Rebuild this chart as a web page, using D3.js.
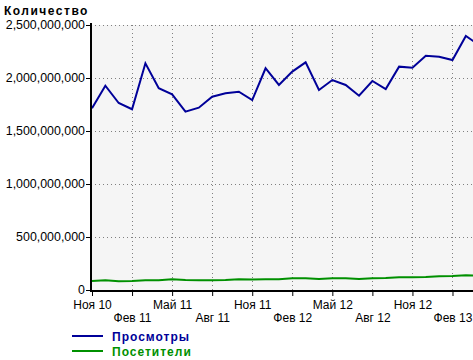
<!DOCTYPE html>
<html>
<head>
<meta charset="utf-8">
<script src="https://cdn.jsdelivr.net/npm/d3@7"></script>
<style>
  body { margin: 0; background: #fff; }
  text { font-family: "Liberation Sans", Arial, sans-serif; }
</style>
</head>
<body>
<script>
// monthly data, Nov 2010 .. Apr 2013
const months = [
  "Ноя 10", "Дек 10", "Янв 11", "Фев 11", "Мар 11", "Апр 11", "Май 11", "Июн 11",
  "Июл 11", "Авг 11", "Сен 11", "Окт 11", "Ноя 11", "Дек 11", "Янв 12", "Фев 12",
  "Мар 12", "Апр 12", "Май 12", "Июн 12", "Июл 12", "Авг 12", "Сен 12", "Окт 12",
  "Ноя 12", "Дек 12", "Янв 13", "Фев 13", "Мар 13", "Апр 13"
];
const views = [
  1714e6, 1927e6, 1764e6, 1705e6, 2139e6, 1903e6, 1846e6, 1682e6,
  1720e6, 1824e6, 1856e6, 1871e6, 1792e6, 2092e6, 1934e6, 2060e6,
  2148e6, 1887e6, 1981e6, 1934e6, 1833e6, 1972e6, 1896e6, 2107e6,
  2097e6, 2210e6, 2201e6, 2170e6, 2396e6, 2310e6
];
const visitors = [
  85e6, 93e6, 83e6, 84e6, 92e6, 93e6, 102e6, 94e6,
  93e6, 93e6, 94e6, 101e6, 100e6, 101e6, 102e6, 110e6,
  111e6, 103e6, 110e6, 111e6, 104e6, 112e6, 113e6, 120e6,
  121e6, 122e6, 130e6, 131e6, 140e6, 133e6
];
const yTicks = [0, 500e6, 1000e6, 1500e6, 2000e6, 2500e6];
const xTicks = [0, 3, 6, 9, 12, 15, 18, 21, 24, 27];

const series = [
  { name: "Просмотры", values: views, color: "#000099" },
  { name: "Посетители", values: visitors, color: "#009000" }
];

const width = 473;
const height = 360;
const plotLeft = 91;
const plotTop = 25;
const plotBottom = 290;
const plotRight = 480;

const svg = d3.select("body").append("svg")
  .attr("width", width)
  .attr("height", height);

const x = d3.scaleLinear().domain([0, 29]).range([92, 479.2]);
const y = d3.scaleLinear().domain([0, 2500e6]).range([plotBottom, plotTop]);

// plot background
svg.append("rect")
  .attr("x", plotLeft)
  .attr("y", plotTop)
  .attr("width", plotRight - plotLeft)
  .attr("height", plotBottom - plotTop)
  .attr("fill", "#f5f5f5");

// grid
const grid = svg.append("g").attr("id", "grid")
  .attr("stroke", "#808080")
  .attr("stroke-width", 1)
  .attr("stroke-dasharray", "1,3")
  .attr("shape-rendering", "crispEdges");

grid.selectAll(".hgrid")
  .data(yTicks.filter((d) => d > 0))
  .enter()
  .append("line")
  .attr("class", "hgrid")
  .attr("x1", plotLeft)
  .attr("x2", plotRight)
  .attr("y1", (d) => Math.round(y(d)) + 0.5)
  .attr("y2", (d) => Math.round(y(d)) + 0.5);

grid.selectAll(".vgrid")
  .data(xTicks.filter((d) => d > 0))
  .enter()
  .append("line")
  .attr("class", "vgrid")
  .attr("x1", (d) => Math.round(x(d)) + 0.5)
  .attr("x2", (d) => Math.round(x(d)) + 0.5)
  .attr("y1", plotTop)
  .attr("y2", plotBottom);

// lines
const line = (vals) => d3.line()
  .x((d, i) => x(i))
  .y((d) => y(d))(vals);

svg.append("g").attr("id", "lines")
  .selectAll("path")
  .data(series)
  .enter()
  .append("path")
  .attr("d", (d) => line(d.values))
  .attr("fill", "none")
  .attr("stroke", (d) => d.color)
  .attr("stroke-width", 2);

// axes
const yAxis = d3.axisLeft(y)
  .tickValues(yTicks)
  .tickFormat(d3.format(","))
  .tickSize(5)
  .tickSizeOuter(0);

const yAxisEl = svg.append("g")
  .attr("id", "y-axis")
  .attr("transform", `translate(${plotLeft}, 0)`)
  .call(yAxis);

yAxisEl.select(".domain").remove();
yAxisEl.selectAll(".tick line").attr("stroke", "#000");
yAxisEl.selectAll(".tick text")
  .attr("x", -6)
  .style("font-size", "12.4px")
  .attr("fill", "#000");

svg.append("line")
  .attr("x1", plotLeft)
  .attr("x2", plotLeft)
  .attr("y1", plotTop - 2)
  .attr("y2", plotBottom + 2)
  .attr("stroke", "#000")
  .attr("stroke-width", 2);

const xAxis = d3.axisBottom(x)
  .tickValues(xTicks)
  .tickFormat((d) => months[d])
  .tickSize(5)
  .tickSizeOuter(0);

const xAxisEl = svg.append("g")
  .attr("id", "x-axis")
  .attr("transform", `translate(0, ${plotBottom + 1})`)
  .call(xAxis);

xAxisEl.select(".domain").remove();
xAxisEl.selectAll(".tick line").attr("stroke", "#000");
xAxisEl.selectAll(".tick text")
  .attr("y", (d, i) => (i % 2 === 0 ? 9 : 22))
  .style("font-size", "12px")
  .attr("fill", "#000");

svg.append("line")
  .attr("x1", plotLeft - 1)
  .attr("x2", plotRight)
  .attr("y1", plotBottom + 1)
  .attr("y2", plotBottom + 1)
  .attr("stroke", "#000")
  .attr("stroke-width", 2);

// title
svg.append("text")
  .attr("x", 4)
  .attr("y", 15)
  .style("font-size", "12px")
  .style("font-weight", "bold")
  .style("letter-spacing", "1.5px")
  .text("Количество");

// legend
const legend = svg.append("g").attr("id", "legend")
  .attr("transform", "translate(72, 336)");

const items = legend.selectAll("g")
  .data(series)
  .enter()
  .append("g")
  .attr("transform", (d, i) => `translate(0, ${i * 15})`);

items.append("line")
  .attr("x1", 0)
  .attr("x2", 31)
  .attr("stroke", (d) => d.color)
  .attr("stroke-width", 2);

items.append("text")
  .attr("x", 40)
  .attr("y", 5)
  .style("font-size", "12px")
  .style("font-weight", "bold")
  .style("letter-spacing", "1px")
  .attr("fill", (d) => d.color)
  .text((d) => d.name);
</script>
</body>
</html>
